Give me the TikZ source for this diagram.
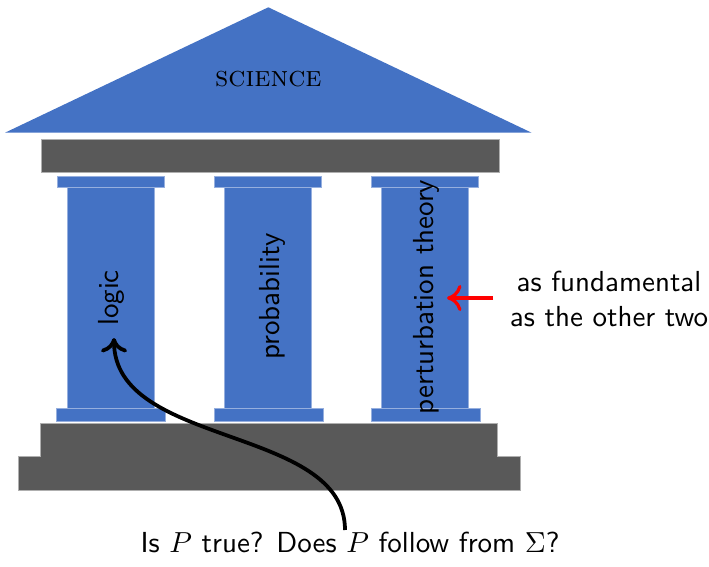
\documentclass[tikz,border=0pt]{standalone}
\usetikzlibrary{arrows.meta}
\definecolor{pillarblue}{RGB}{68,114,196}
\definecolor{pillaredge}{RGB}{150,175,222}
\definecolor{stonegray}{RGB}{89,89,89}
\definecolor{stoneedge}{RGB}{175,175,175}
\begin{document}
\begin{tikzpicture}[x=0.345pt,y=-0.345pt,
  bluepart/.style={fill=pillarblue,draw=pillaredge,line width=0.3pt},
  graypart/.style={fill=stonegray,draw=stoneedge,line width=0.3pt},
  pillarlabel/.style={rotate=90,inner sep=0pt,font=\sffamily},
  note/.style={inner sep=0pt,font=\sffamily,align=center},
  barb/.style={-{To[length=5pt,width=9pt]}}]
\useasboundingbox (0,0) rectangle (709,566);

% roof
\fill[pillarblue] (5,132.7) -- (268.3,7.3) -- (531.6,132.7) -- cycle;
\node[inner sep=0pt] (science) at (268.4,79.5) {\textsc{science}};

% architrave
\draw[graypart] (41.7,139.3) rectangle (499,172.7);

% three pillars: capital, shaft and foot
\foreach \cx in {110.7,268.3,425.3}{
  \draw[bluepart] (\cx-53.5,176) rectangle (\cx+53.5,187);
  \draw[bluepart] (\cx-43.6,187) rectangle (\cx+43.6,408.5);
  \draw[bluepart] (\cx-53.8,408.5) rectangle (\cx+54.8,421);
}

% steps
\draw[graypart] (40,423.3) -- (497.7,423.3) -- (497.7,456.7) -- (520,456.7)
  -- (520,490) -- (18,490) -- (18,456.7) -- (40,456.7) -- cycle;

% pillar labels
\node[pillarlabel] (logic) at (111.5,298) {logic};
\node[pillarlabel] (prob) at (272,296.5) {probability};
\node[pillarlabel] (pert) at (426,297) {perturbation theory};

% side remark
\node[note] (fund) at (609,299) {as fundamental\\as the other two};
\coordinate (redstart) at (493,298);
\coordinate (redend) at (447,298);
\draw[barb,red,line width=1.1pt] (redstart) -- (redend);

% question and its arrow
\node[note] (question) at (350,542) {Is $P$ true? Does $P$ follow from $\Sigma$?};
\coordinate (qtop) at (345,530);
\coordinate (logicfoot) at (114,338);
\draw[barb,line width=1.3pt] (qtop) .. controls (345,425) and (114,448) .. (logicfoot);
\end{tikzpicture}
\end{document}
